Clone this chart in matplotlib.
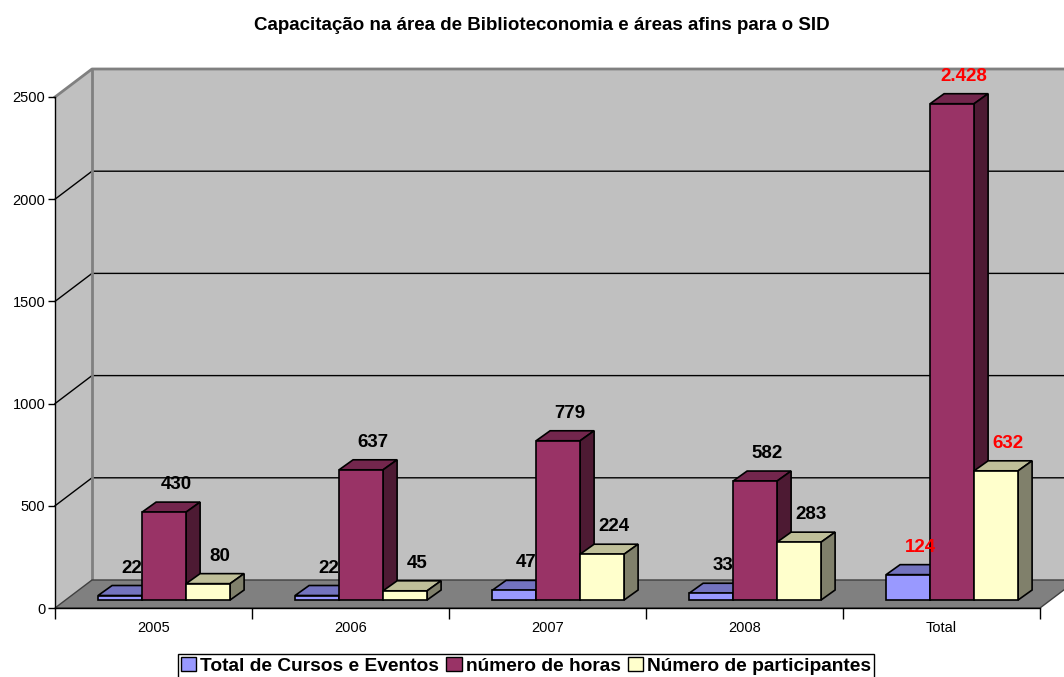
import matplotlib.pyplot as plt
from matplotlib.patches import Polygon, Patch

plt.rcParams['font.family'] = ['Liberation Sans', 'DejaVu Sans']

categories = ['2005', '2006', '2007', '2008', 'Total']
cursos = [22, 22, 47, 33, 124]
horas = [430, 637, 779, 582, 2428]
participantes = [80, 45, 224, 283, 632]
series_names = ['Total de Cursos e Eventos', 'número de horas', 'Número de participantes']
yticks = [0, 500, 1000, 1500, 2000, 2500]

front_col = ['#9999FF', '#993366', '#FFFFCC']
top_col = ['#7373BF', '#73264D', '#BFBF99']
side_col = ['#4D4D80', '#4D1A33', '#80806B']

W, H = 1064, 677
fig = plt.figure(figsize=(W / 100, H / 100), dpi=100)
ax = fig.add_axes([55 / W, (H - 608) / H, 985 / W, 511 / H])
ax.set_xlim(0, len(categories))
ax.set_ylim(0, 2500)
ax.patch.set_visible(False)

# pixel sizes in data units
px = len(categories) / 985
py = 2500 / 511
wdx, wdy = 37 * px, 28 * py      # wall depth
bx, by = 10.6 * px, 8 * py       # where the bars stand on the floor
ddx, ddy = 14 * px, 10 * py      # bar depth
bw = 44 * px
n = len(categories)

# walls and floor
ax.add_patch(Polygon([(0, 0), (0, 2500), (wdx, 2500 + wdy), (wdx, wdy)],
                     facecolor='#C0C0C0', edgecolor='none', zorder=0.5, clip_on=False))
ax.add_patch(Polygon([(wdx, wdy), (wdx, 2500 + wdy), (n + wdx + 1, 2500 + wdy), (n + wdx + 1, wdy)],
                     facecolor='#C0C0C0', edgecolor='none', zorder=0.5, clip_on=False))
ax.add_patch(Polygon([(0, 0), (wdx, wdy), (n + wdx, wdy), (n, 0)],
                     facecolor='#808080', edgecolor='#404040', lw=1, zorder=0.8, clip_on=False))
for v in yticks[1:-1]:
    ax.plot([0, wdx, n + wdx + 1], [v, v + wdy, v + wdy], color='black', lw=1, zorder=0.7, clip_on=False)
ax.plot([0, wdx, n + wdx + 1], [2500, 2500 + wdy, 2500 + wdy], color='#808080', lw=2, zorder=0.7, clip_on=False)
ax.plot([wdx, wdx], [wdy, 2500 + wdy], color='#808080', lw=2, zorder=0.7, clip_on=False)

# bars
for j, vals in enumerate([cursos, horas, participantes]):
    xs = [i + 0.5 - 1.5 * bw + j * bw + bx for i in range(n)]
    z = 3 + j
    ax.bar(xs, vals, width=bw, bottom=by, align='edge', color=front_col[j],
           edgecolor='black', lw=1.2, zorder=z + 0.2, clip_on=False)
    for i, (x, v) in enumerate(zip(xs, vals)):
        t = by + v
        ax.add_patch(Polygon([(x, t), (x + ddx, t + ddy), (x + bw + ddx, t + ddy), (x + bw, t)],
                             facecolor=top_col[j], edgecolor='black', lw=1.2, zorder=z, clip_on=False))
        ax.add_patch(Polygon([(x + bw, by), (x + bw + ddx, by + ddy), (x + bw + ddx, t + ddy), (x + bw, t)],
                             facecolor=side_col[j], edgecolor='black', lw=1.2, zorder=z, clip_on=False))
        ax.text(x + bw / 2 + ddx / 2 + 5 * px, t + ddy + 9 * py, f'{v:,}'.replace(',', '.'),
                ha='center', va='bottom', fontsize=13.5, fontweight='bold',
                color='red' if categories[i] == 'Total' else 'black', zorder=10)

# axes
for s in ['top', 'right']:
    ax.spines[s].set_visible(False)
ax.spines['left'].set_linewidth(1)
ax.spines['bottom'].set_linewidth(1)
ax.set_yticks(yticks)
ax.tick_params(axis='y', length=5, width=1, labelsize=10.5, pad=2)
ax.set_xticks(range(n + 1))
ax.set_xticklabels([])
ax.tick_params(axis='x', which='major', length=8, width=1)
ax.set_xticks([i + 0.5 for i in range(n)], minor=True)
ax.set_xticklabels(categories, minor=True)
ax.tick_params(axis='x', which='minor', length=0, labelsize=10.5, pad=9)

fig.text(542 / W, 1 - 25 / H, 'Capacitação na área de Biblioteconomia e áreas afins para o SID',
         ha='center', va='center', fontsize=13.5, fontweight='bold')

handles = [Patch(facecolor=c, edgecolor='black', lw=1) for c in front_col]
leg = fig.legend(handles, series_names, loc='upper center', bbox_to_anchor=(526 / W, 1 - 654 / H),
                 ncol=3, frameon=True, fancybox=False, edgecolor='black', framealpha=1,
                 prop={'size': 13.75, 'weight': 'bold'}, handlelength=0.8, handleheight=0.8,
                 handletextpad=0.2, columnspacing=0.4, borderaxespad=0, borderpad=0.15)
leg.get_frame().set_linewidth(1)

fig.savefig('out.png', dpi=100)
